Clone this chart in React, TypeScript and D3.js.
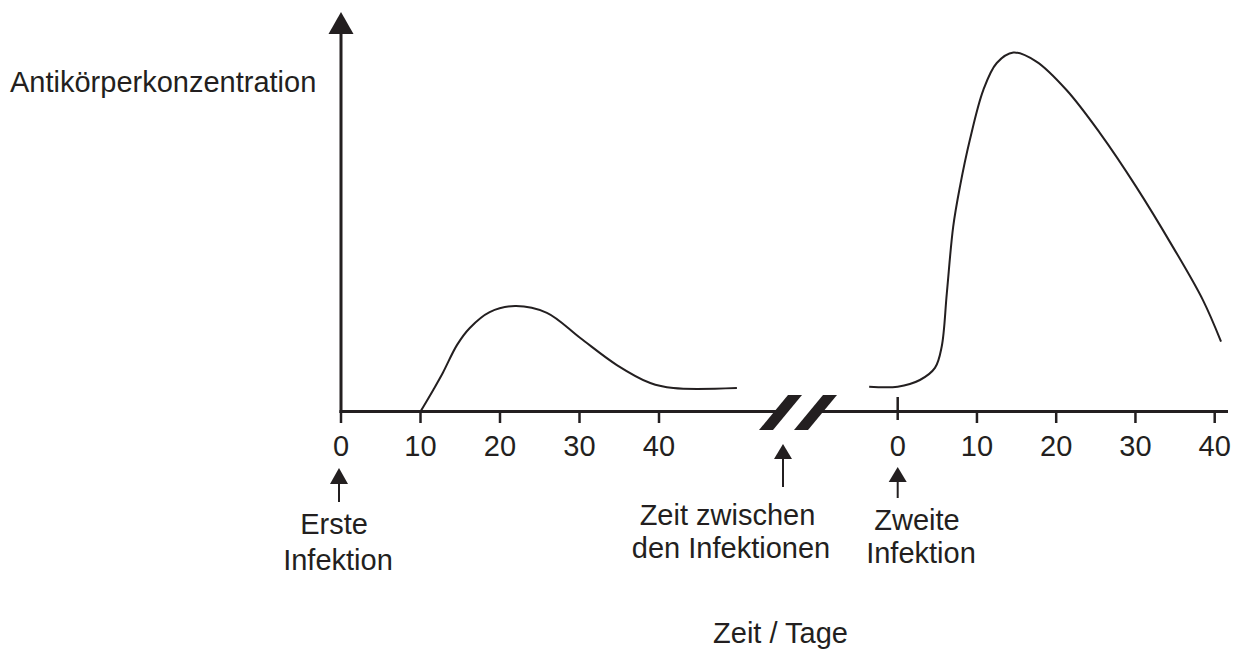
import React from "react";
import * as d3 from "d3";

// ---- data ----
const firstDays = [10, 11.6, 12.8, 14.6, 16.2, 18.7, 21.9, 25.9, 30.1, 34.7, 38.9, 41.8, 49.8];
const firstLevels = [0, 6.0, 10.7, 18.5, 23.2, 27.6, 29.3, 27.4, 20.4, 12.9, 7.9, 6.5, 6.5];

const secondDays = [-3.6, 0, 2.8, 4.7, 5.55, 6.2, 7.0, 7.85, 9.1, 10.8, 12.5, 14.6, 17.5, 21.3, 25.5, 30.1, 34.7, 38.5, 40.8];
const secondLevels = [6.9, 6.9, 8.75, 12.1, 18, 32.9, 51.3, 62.4, 75.4, 89.3, 96.8, 99.7, 97.2, 89.3, 77.4, 62.4, 45.8, 31, 19.4];

const firstTicks = [0, 10, 20, 30, 40];
const secondTicks = [0, 10, 20, 30, 40];

const yLabel = "Antikörperkonzentration";
const xLabel = "Zeit / Tage";
const firstInfection = ["Erste", "Infektion"];
const secondInfection = ["Zweite", "Infektion"];
const betweenLabel = ["Zeit zwischen", "den Infektionen"];

const INK = "#231f20";
const FONT = "'Liberation Sans', Arial, Helvetica, sans-serif";

function Arrow({ x, tip, bottom, headH, headW, sw }: any) {
  return (
    <g>
      <line x1={x} x2={x} y1={bottom} y2={tip + headH - 1} stroke={INK} strokeWidth={sw} />
      <path d={`M${x},${tip} L${x + headW / 2},${tip + headH} L${x - headW / 2},${tip + headH} Z`} fill={INK} />
    </g>
  );
}

export default function App() {
  const W = 1242, H = 650;
  const axisY = 411.5;
  const xFirst = d3.scaleLinear().domain([0, 40]).range([341, 659]);
  const xSecond = d3.scaleLinear().domain([0, 40]).range([897.7, 1214.7]);
  const y = d3.scaleLinear().domain([0, 100]).range([axisY, 51.5]);

  const firstData = firstDays.map((d, i) => [d, firstLevels[i]] as [number, number]);
  const secondData = secondDays.map((d, i) => [d, secondLevels[i]] as [number, number]);

  const curve = d3.curveCatmullRom.alpha(0.5);
  const lineFirst = d3.line<[number, number]>().x(d => xFirst(d[0])).y(d => y(d[1])).curve(curve);
  const lineSecond = d3.line<[number, number]>().x(d => xSecond(d[0])).y(d => y(d[1])).curve(curve);

  const x0 = xFirst(0);
  const tx: any = { fontFamily: FONT, fontSize: 29, fill: INK };

  return (
    <svg width={W} height={H} style={{ position: "absolute", left: 0, top: 0, background: "#fff" }}>
      {/* y axis with arrow */}
      <line x1={x0} x2={x0} y1={axisY + 1.5} y2={32} stroke={INK} strokeWidth={3} />
      <path d={`M${x0},12 L${x0 + 12.5},34 L${x0 - 12.5},34 Z`} fill={INK} />
      <text x={10} y={92} {...tx}>{yLabel}</text>

      {/* x axis segments */}
      <line x1={x0 - 1.5} x2={781} y1={axisY} y2={axisY} stroke={INK} strokeWidth={3} />
      <line x1={816} x2={1228} y1={axisY} y2={axisY} stroke={INK} strokeWidth={3} />
      {/* break marks */}
      <path d="M788,395 L802,395 L773,430 L759,430 Z" fill={INK} />
      <path d="M823,395 L837,395 L808,430 L794,430 Z" fill={INK} />

      {/* ticks first */}
      {firstTicks.map(t => (
        <g key={"f" + t}>
          <line x1={xFirst(t)} x2={xFirst(t)} y1={axisY} y2={423} stroke={INK} strokeWidth={2.5} />
          <text x={xFirst(t)} y={456} textAnchor="middle" {...tx}>{t}</text>
        </g>
      ))}
      {secondTicks.map(t => (
        <g key={"s" + t}>
          <line x1={xSecond(t)} x2={xSecond(t)} y1={t === 0 ? 397 : axisY} y2={t === 0 ? 420 : 423} stroke={INK} strokeWidth={2.5} />
          <text x={xSecond(t)} y={456} textAnchor="middle" {...tx}>{t}</text>
        </g>
      ))}

      {/* curves */}
      <path d={lineFirst(firstData) || ""} fill="none" stroke={INK} strokeWidth={2} />
      <path d={lineSecond(secondData) || ""} fill="none" stroke={INK} strokeWidth={2} />

      {/* annotation arrows */}
      <Arrow x={xFirst(0) - 2} tip={468} bottom={502} headH={16} headW={18} sw={2} />
      <Arrow x={783} tip={444} bottom={487} headH={15} headW={18} sw={2} />
      <Arrow x={xSecond(0)} tip={467} bottom={498} headH={15} headW={18} sw={2} />

      <text x={334} y={534} textAnchor="middle" {...tx}>{firstInfection[0]}</text>
      <text x={338} y={570} textAnchor="middle" {...tx}>{firstInfection[1]}</text>

      <text x={727.5} y={525} textAnchor="middle" {...tx}>{betweenLabel[0]}</text>
      <text x={731} y={558} textAnchor="middle" {...tx}>{betweenLabel[1]}</text>

      <text x={917} y={530} textAnchor="middle" {...tx}>{secondInfection[0]}</text>
      <text x={921} y={563} textAnchor="middle" {...tx}>{secondInfection[1]}</text>

      <text x={780.5} y={643} textAnchor="middle" {...tx}>{xLabel}</text>
    </svg>
  );
}
